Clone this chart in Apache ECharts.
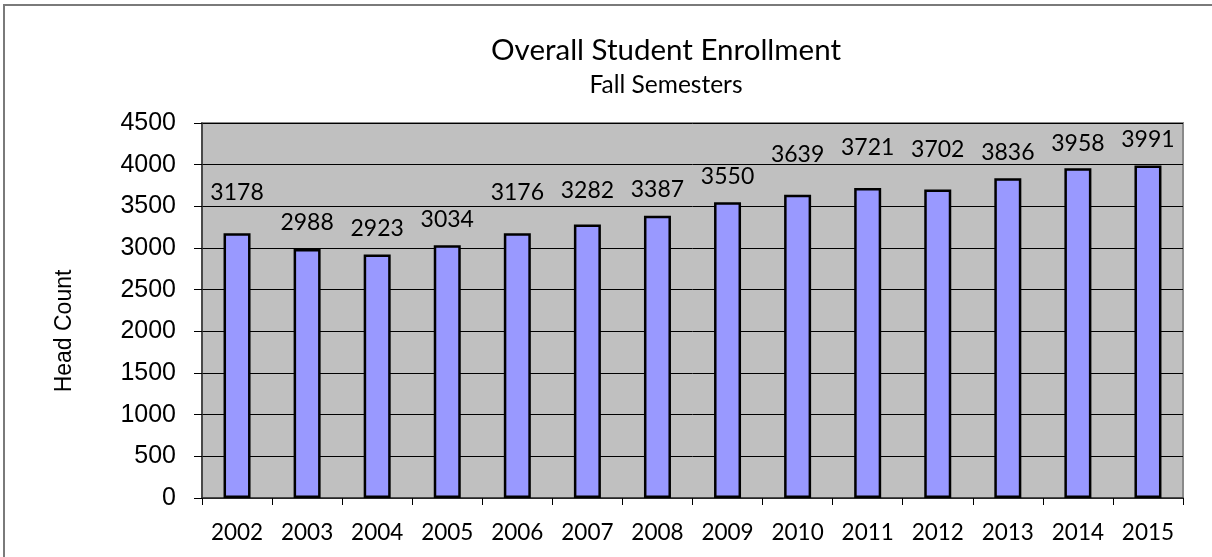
<!DOCTYPE html>
<html>
<head>
<meta charset="utf-8">
<script src="https://cdn.jsdelivr.net/npm/echarts@6/dist/echarts.min.js"></script>
<style>
html,body{margin:0;padding:0;background:#fff;}
#chart{width:1212px;height:557px;}
</style>
</head>
<body>
<div id="chart"></div>
<script>
const years = ['2002','2003','2004','2005','2006','2007','2008','2009','2010','2011','2012','2013','2014','2015'];
const headCount = [3178,2988,2923,3034,3176,3282,3387,3550,3639,3721,3702,3836,3958,3991];
const yTicks = {min: 0, max: 4500, interval: 500};
const titleText = 'Overall Student Enrollment';
const subtitleText = 'Fall Semesters';
const yName = 'Head Count';
// label lift above bar top (style, px), matching manual placement in reference
const labelLift = [41,26,26,26,41,34,26,26,40,40,40,26,25,26];

const chart = echarts.init(document.getElementById('chart'));
const labelFont = 'Lato';
chart.setOption({
  animation: false,
  backgroundColor: '#ffffff',
  title: [
    {text: titleText, left: 661, top: 30, textAlign: 'center',
     textStyle: {fontFamily: labelFont, fontSize: 29.5, fontWeight: 'normal', color: '#000', lineHeight: 30}},
    {text: subtitleText, left: 661, top: 68, textAlign: 'center',
     textStyle: {fontFamily: labelFont, fontSize: 24.5, fontWeight: 'normal', color: '#000', lineHeight: 24}}
  ],
  grid: {left: 202, right: 29, top: 123, bottom: 59, show: true,
         backgroundColor: '#c0c0c0', borderColor: '#8a8a8a', borderWidth: 2},
  xAxis: {
    type: 'category', data: years,
    axisLine: {show: true, lineStyle: {color: '#333', width: 1.5}},
    axisTick: {show: true, length: 7, lineStyle: {color: '#000', width: 1}},
    axisLabel: {fontFamily: labelFont, fontSize: 22.5, color: '#000', margin: 24, lineHeight: 22},
    splitLine: {show: false}
  },
  yAxis: {
    type: 'value', min: yTicks.min, max: yTicks.max, interval: yTicks.interval,
    axisLine: {show: true, lineStyle: {color: '#333', width: 1.5}},
    axisTick: {show: true, length: 8, lineStyle: {color: '#000', width: 1}},
    axisLabel: {fontFamily: 'Liberation Sans', fontSize: 25, color: '#000', margin: 26,
                formatter: v => String(v)},
    splitLine: {show: true, lineStyle: {color: '#000', width: 1}}
  },
  series: [{
    type: 'bar',
    barWidth: 27,
    data: headCount.map((v, i) => ({
      value: v,
      label: {offset: [0, -(labelLift[i] - 11)]}
    })),
    itemStyle: {color: '#9999ff', borderColor: '#000', borderWidth: 2.5},
    label: {show: true, position: 'top', distance: 0, fontFamily: labelFont, fontSize: 23,
            lineHeight: 22, color: '#000'}
  }],
  graphic: [
    {type: 'polyline', silent: true, shape: {points: [[4, 557], [4, 5], [1212, 5]]},
     style: {stroke: '#7a7a7a', lineWidth: 2, fill: null}},
    {type: 'text', x: 65, y: 331, rotation: Math.PI / 2,
     style: {text: yName, fontFamily: 'Liberation Sans', fontSize: 23, fill: '#000',
             align: 'center', verticalAlign: 'middle'}}
  ]
});
</script>
</body>
</html>
